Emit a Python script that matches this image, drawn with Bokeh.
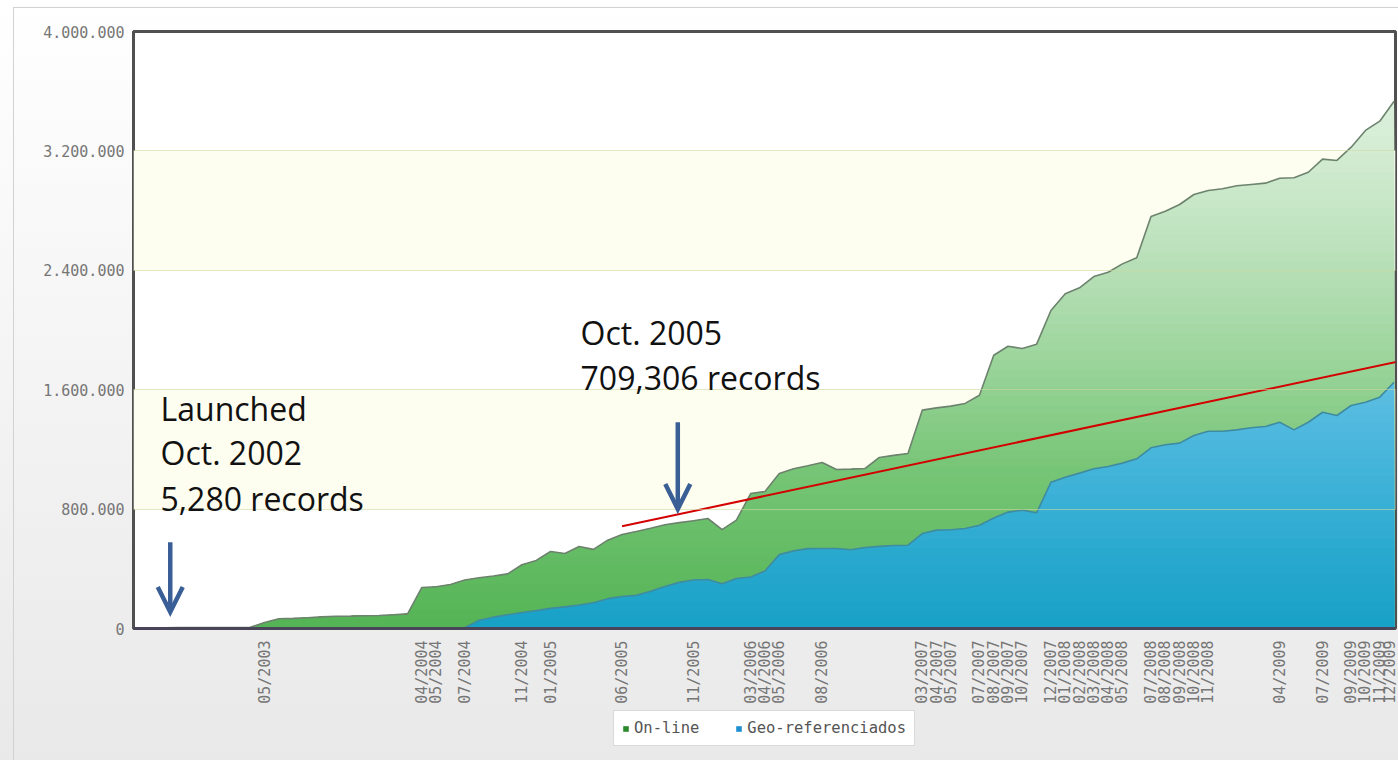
import numpy as np
from bokeh.plotting import figure
from bokeh.layouts import column
from bokeh.models import (Range1d, FixedTicker, Legend, LegendItem, Arrow, OpenHead,
                          Label, BoxAnnotation)
from bokeh.embed import file_html
from bokeh.resources import INLINE

# ---------------- data (monthly, first month = 10/2002) ----------------
first_month = "10/2002"
series_names = ["On-line", "Geo-referenciados"]

online = [
    5280, 6000, 6000, 6000, 7000, 7000, 8000, 40000, 65000, 68000,
    72000, 78000, 82000, 83000, 85000, 87000, 92000, 98000, 275000, 280000,
    295000, 325000, 340000, 352000, 366000, 427000, 456000, 516000, 503000, 550000,
    530000, 592000, 630000, 650000, 672000, 695000, 709306, 722000, 737000, 663000,
    726000, 904000, 918000, 1038000, 1070000, 1090000, 1112000, 1065000, 1068000, 1072000,
    1146000, 1160000, 1172000, 1463000, 1478000, 1490000, 1508000, 1563000, 1831000, 1891000,
    1876000, 1905000, 2131000, 2243000, 2283000, 2358000, 2387000, 2443000, 2484000, 2760000,
    2796000, 2841000, 2908000, 2935000, 2946000, 2966000, 2975000, 2984000, 3017000, 3020000,
    3057000, 3145000, 3136000, 3225000, 3337000, 3399000, 3533000]

georef = [
    0, 0, 0, 0, 0, 0, 0, 0, 0, 0,
    0, 0, 0, 0, 0, 0, 0, 0, 0, 0,
    0, 5000, 55000, 76000, 92000, 107000, 120000, 135000, 145000, 158000,
    172000, 200000, 214000, 222000, 250000, 282000, 309000, 325000, 328000, 300000,
    335000, 345000, 385000, 495000, 520000, 535000, 536000, 536000, 528000, 543000,
    550000, 556000, 558000, 636000, 659000, 662000, 670000, 692000, 740000, 780000,
    793000, 775000, 980000, 1014000, 1041000, 1070000, 1085000, 1108000, 1137000, 1211000,
    1231000, 1242000, 1293000, 1322000, 1322000, 1331000, 1345000, 1353000, 1382000, 1331000,
    1382000, 1449000, 1427000, 1494000, 1516000, 1550000, 1650000]

tick_labels = ["05/2003", "04/2004", "05/2004", "07/2004", "11/2004", "01/2005",
               "06/2005", "11/2005", "03/2006", "04/2006", "05/2006", "08/2006",
               "03/2007", "04/2007", "05/2007", "07/2007", "08/2007", "09/2007",
               "10/2007", "12/2007", "01/2008", "02/2008", "03/2008", "04/2008",
               "05/2008", "07/2008", "08/2008", "09/2008", "10/2008", "11/2008",
               "04/2009", "07/2009", "09/2009", "10/2009", "11/2009", "12/2009"]

y_ticks = [0, 800000, 1600000, 2400000, 3200000, 4000000]
y_tick_labels = ["0", "800.000", "1.600.000", "2.400.000", "3.200.000", "4.000.000"]

# annotations (month index / records)
trend_x = [32.0, 86.3]
trend_y = [685000, 1789000]
arrow_x = [0.4, 35.9]
arrow_top = [578000, 1382000]
arrow_tip = [110000, 800000]
note_text = ["Launched", "Oct. 2002", "5,280 records", "Oct. 2005", "709,306 records"]
note_x = [-0.28, -0.28, -0.28, 29.1, 29.1]
note_y = [1476000, 1176000, 874000, 1983000, 1682000]


def month_index(lbl):
    mm, yyyy = lbl.split("/")
    fm, fy = first_month.split("/")
    return (int(yyyy) - int(fy)) * 12 + int(mm) - int(fm)


months = np.arange(len(online))
tick_pos = [month_index(t) for t in tick_labels]


# ---------------- helpers for vertical gradient fills ----------------
def hex2rgb(h):
    return [int(h[i:i + 2], 16) for i in (1, 3, 5)]


def ramp(v, stops_v, stops_c):
    rgb = [np.interp(v, stops_v, [hex2rgb(c)[k] for c in stops_c]) for k in range(3)]
    return "#%02x%02x%02x" % tuple(int(round(x)) for x in rgb)


def gradient_area(p, xs, ys, stops_v, stops_c, step):
    xs = np.asarray(xs, float)
    ys = np.asarray(ys, float)
    levels = np.arange(step, ys.max() + step, step)
    extra = []
    a, b = ys[:-1], ys[1:]
    for lv in levels:
        m = (a - lv) * (b - lv) < 0
        t = (lv - a[m]) / (b[m] - a[m])
        extra.append(xs[:-1][m] + t * (xs[1:][m] - xs[:-1][m]))
    xd = np.unique(np.concatenate([xs] + extra))
    yd = np.interp(xd, xs, ys)
    for lv in levels[::-1]:
        p.varea(x=xd, y1=np.zeros_like(xd), y2=np.minimum(yd, lv),
                fill_color=ramp(lv - step / 2, stops_v, stops_c))


W, H_MAIN, H_LEG = 1398, 706, 54

p = figure(width=W, height=H_MAIN,
           x_range=Range1d(-2.17, 86.1), y_range=Range1d(0, 4000000),
           output_backend="svg", toolbar_location=None,
           min_border_left=133, min_border_right=3, min_border_top=31, min_border_bottom=78,
           border_fill_color=None, background_fill_color="#ffffff",
           outline_line_color="#505050", outline_line_width=3)

# alternating background bands
for b0, b1 in [(800000, 1600000), (2400000, 3200000)]:
    p.add_layout(BoxAnnotation(bottom=b0, top=b1, fill_color="#fdfdf0", fill_alpha=1,
                               line_color=None, level="underlay"))

# stacked areas with vertical gradients
gradient_area(p, months, online,
              [0, 1000000, 1730000, 2260000, 2870000, 3500000],
              ["#54b454", "#74c474", "#98d398", "#b1dcb1", "#c8e7c8", "#dcf0dc"], 60000)
gradient_area(p, months, georef,
              [0, 500000, 1000000, 1650000],
              ["#17a0c6", "#2aa9cf", "#40b2d8", "#5ebee3"], 60000)
p.line(months, online, line_color="#6d836e", line_width=1.6)
p.line(months, georef, line_color="#3f8ba0", line_width=1.6)

# trend line
p.line(trend_x, trend_y, line_color="#d30000", line_width=2)

# arrows
ac = "#3a5e96"
for xa, y0, y1 in zip(arrow_x, arrow_top, arrow_tip):
    p.add_layout(Arrow(end=OpenHead(size=25, line_width=4.5, line_color=ac, line_join="miter"),
                       x_start=xa, y_start=y0, x_end=xa, y_end=y1,
                       line_width=4.5, line_color=ac))

# notes
for t, xn, yn in zip(note_text, note_x, note_y):
    p.add_layout(Label(x=xn, y=yn, text=t, text_font="Open Sans", text_font_size="32px",
                       text_color="#111111", text_align="left", text_baseline="alphabetic"))

# axes
p.xaxis.ticker = FixedTicker(ticks=tick_pos)
p.xaxis.major_label_overrides = {tp: lbl for tp, lbl in zip(tick_pos, tick_labels)}
p.xaxis.major_label_orientation = np.pi / 2
p.xaxis.major_tick_line_color = None
p.xaxis.minor_tick_line_color = None
p.xaxis.major_label_standoff = 6
p.xaxis.axis_line_color = "#4a4458"
p.xaxis.axis_line_width = 3
p.yaxis.ticker = FixedTicker(ticks=y_ticks)
p.yaxis.major_label_overrides = {t: l for t, l in zip(y_ticks, y_tick_labels)}
p.yaxis.major_tick_line_color = None
p.yaxis.minor_tick_line_color = None
p.yaxis.axis_line_color = None
p.yaxis.major_label_standoff = 3
for ax in (p.xaxis, p.yaxis):
    ax.major_label_text_font = "DejaVu Sans Mono"
    ax.major_label_text_font_size = "15px"
    ax.major_label_text_color = "#767676"

p.xgrid.grid_line_color = None
p.ygrid.ticker = FixedTicker(ticks=y_ticks)
p.ygrid.grid_line_color = "#cfd89c"
p.ygrid.grid_line_alpha = 0.6
p.ygrid.level = "annotation"

# legend strip below the chart (its frame is aligned with the chart frame)
pl = figure(width=W, height=H_LEG, x_range=Range1d(0, 1), y_range=Range1d(0, 1),
            output_backend="svg", toolbar_location=None,
            x_axis_location=None, y_axis_location=None, min_border=0,
            border_fill_color=None, background_fill_color=None, outline_line_color=None)
pl.grid.visible = False
nan1 = [np.nan]
r_on = pl.quad(left=nan1, right=nan1, top=nan1, bottom=nan1, fill_color="#2b8a2b", line_color=None)
r_geo = pl.quad(left=nan1, right=nan1, top=nan1, bottom=nan1, fill_color="#1e8fd0", line_color=None)
legend = Legend(items=[LegendItem(label=series_names[0], renderers=[r_on]),
                       LegendItem(label=series_names[1], renderers=[r_geo])],
                orientation="horizontal", location=(480, 14),
                border_line_color="#b4b4b4", border_line_width=1,
                background_fill_color="#ffffff", background_fill_alpha=1,
                label_text_font="DejaVu Sans Mono", label_text_font_size="15.5px",
                label_text_color="#555555", glyph_width=7, glyph_height=7,
                label_standoff=5, spacing=36, padding=8, margin=0)
pl.add_layout(legend)

bg = ("linear-gradient(#d2d2d2, #d2d2d2) 13px 7px / 100% 1px no-repeat, "
      "linear-gradient(#d2d2d2, #d2d2d2) 13px 7px / 1px 100% no-repeat, "
      "linear-gradient(to bottom, #ffffff 0%, #f5f5f5 45%, #e9e9e9 100%)")
layout = column(p, pl, spacing=0, styles={"background": bg})

open("out.html", "w").write(file_html(layout, INLINE))
